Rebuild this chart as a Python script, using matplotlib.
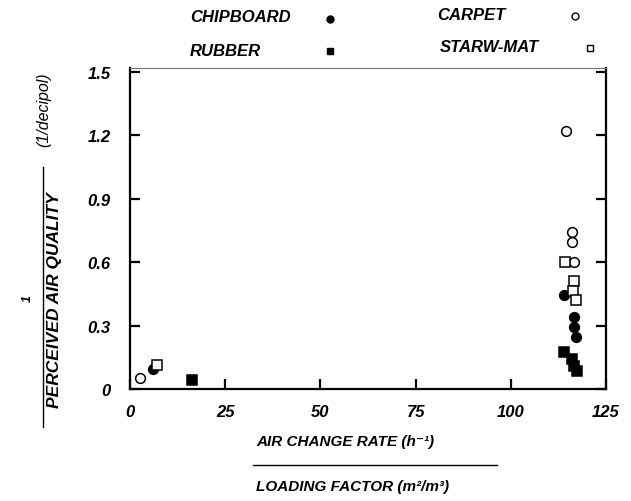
import matplotlib

matplotlib.use("Agg")
import matplotlib.pyplot as plt
from matplotlib.lines import Line2D

plt.rcParams["font.family"] = ["Liberation Sans", "DejaVu Sans"]

# values (x = air change rate / loading factor, y = 1/PAQ)
chip_x = [6.0, 114.0, 116.5, 116.5, 117.1]
chip_y = [0.095, 0.445, 0.339, 0.292, 0.244]
rubber_x = [16.3, 113.9, 116.2, 116.7, 117.4]
rubber_y = [0.044, 0.176, 0.142, 0.110, 0.087]
carpet_x = [2.6, 114.5, 116.2, 116.2, 116.7]
carpet_y = [0.052, 1.22, 0.742, 0.697, 0.603]
straw_x = [7.2, 114.2, 116.5, 116.4, 117.1]
straw_y = [0.114, 0.600, 0.513, 0.466, 0.419]

xticks = [0, 25, 50, 75, 100, 125]
yticks = [0, 0.3, 0.6, 0.9, 1.2, 1.5]
ytick_labels = ["0", "0.3", "0.6", "0.9", "1.2", "1.5"]

W, H = 631, 502
fig = plt.figure(figsize=(W / 100, H / 100), dpi=100)
ax = fig.add_axes([130 / W, (H - 390) / H, (606 - 130) / W, (390 - 69) / H])

ms = 7.0
mew = 1.1
ax.plot(chip_x, chip_y, "o", ms=ms, mfc="black", mec="black", mew=mew, ls="none")
ax.plot(rubber_x, rubber_y, "s", ms=ms, mfc="black", mec="black", mew=mew, ls="none")
ax.plot(carpet_x, carpet_y, "o", ms=ms, mfc="white", mec="black", mew=mew, ls="none")
ax.plot(straw_x, straw_y, "s", ms=ms, mfc="white", mec="black", mew=mew, ls="none")

ax.set_xlim(0, 125)
ax.set_ylim(0, 1.519)
ax.set_xticks(xticks)
ax.set_xticklabels([str(t) for t in xticks])
ax.set_yticks(yticks)
ax.set_yticklabels(ytick_labels)

for lab in ax.get_xticklabels() + ax.get_yticklabels():
    lab.set_fontsize(12)
    lab.set_fontweight("bold")
    lab.set_fontstyle("italic")

ax.tick_params(axis="both", direction="in", length=7, width=1.6)
ax.tick_params(axis="x", pad=11)
ax.tick_params(axis="y", right=True, pad=14)
ax.tick_params(axis="x", top=False)
for side in ["left", "bottom", "right"]:
    ax.spines[side].set_linewidth(1.6)
ax.spines["top"].set_linewidth(0.8)
ax.spines["top"].set_color("#777777")


def ftext(x, y, s, weight="bold", **kw):
    fig.text(x / W, 1 - y / H, s, fontweight=weight, fontstyle="italic", **kw)


def fline(x0, y0, x1, y1, lw=1.0):
    fig.add_artist(Line2D([x0 / W, x1 / W], [1 - y0 / H, 1 - y1 / H], color="black", lw=lw))


def fmark(x, y, marker, filled, size):
    fig.add_artist(Line2D([x / W], [1 - y / H], marker=marker, ms=size,
                          mfc="black" if filled else "white", mec="black", mew=1.0, ls="none"))


# legend block above the axes
ftext(190, 18, "CHIPBOARD", fontsize=12, va="center", ha="left")
fmark(330, 20, "o", True, 5)
ftext(437, 15, "CARPET", fontsize=12, va="center", ha="left")
fmark(575, 17, "o", False, 5)
ftext(190, 51, "RUBBER", fontsize=12, va="center", ha="left")
fmark(330, 52, "s", True, 5)
ftext(440, 48, "STARW-MAT", fontsize=12, va="center", ha="left")
fmark(590, 49, "s", False, 5)

# y label written as a fraction
ftext(28, 298, "1", fontsize=9, rotation=90, va="center", ha="center")
fline(43, 168, 43, 428)
ftext(55, 300, "PERCEIVED AIR QUALITY", fontsize=12.5, rotation=90, va="center", ha="center")
ftext(44, 110, "(1/decipol)", weight="normal", fontsize=11.5, rotation=90, va="center", ha="center")

# x label written as a fraction
ftext(256, 442, "AIR CHANGE RATE (h\u207b\u00b9)", fontsize=11, va="center", ha="left")
fline(253, 466, 497, 466)
ftext(256, 487, "LOADING FACTOR (m\u00b2/m\u00b3)", fontsize=11, va="center", ha="left")

fig.savefig("out.png", dpi=100)
